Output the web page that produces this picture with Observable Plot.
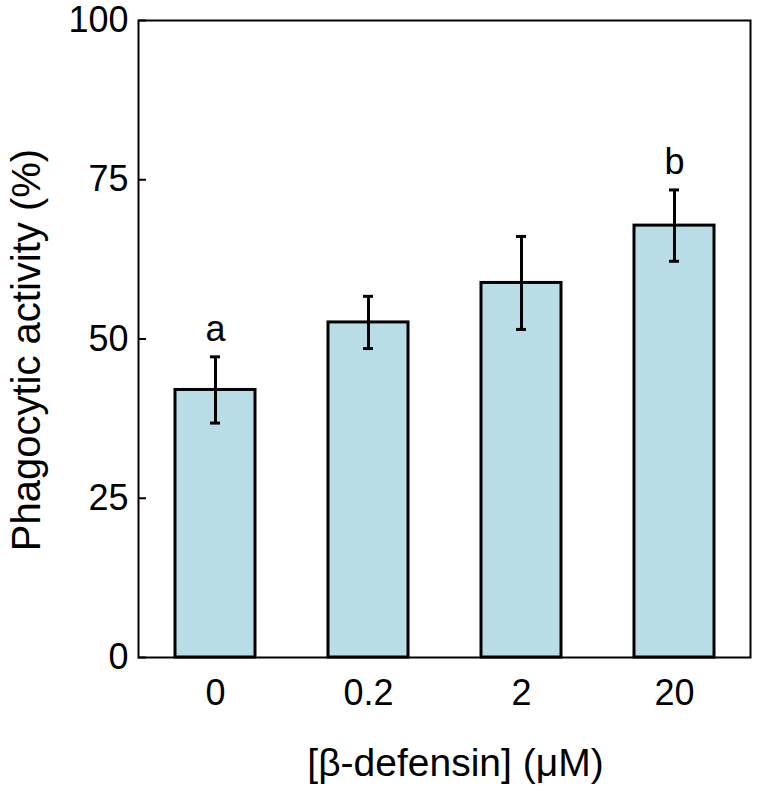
<!DOCTYPE html>
<html>
<head>
<meta charset="utf-8">
<script src="https://cdn.jsdelivr.net/npm/d3@7"></script>
<script src="https://cdn.jsdelivr.net/npm/@observablehq/plot@0.6"></script>
<style>
  html, body { margin: 0; padding: 0; background: #fff; }
  #chart svg { display: block; font-family: "Liberation Sans", Arial, sans-serif; }
</style>
</head>
<body>
<div id="chart"></div>
<script>
const doses = ["0", "0.2", "2", "20"];
const means = [42.0, 52.6, 58.8, 67.8];
const errors = [5.2, 4.1, 7.3, 5.6];
const letters = ["a", "", "", "b"];
const yTicks = [0, 25, 50, 75, 100];
const xLabel = ["[β-defensin] (μM)"];
const yLabel = ["Phagocytic activity (%)"];

const data = doses.map((d, i) => ({dose: d, mean: means[i], err: errors[i], letter: letters[i]}));
const W = 760, H = 794;
const mL = 138, mR = 10, mT = 20, mB = 137;

const chart = Plot.plot({
  width: W,
  height: H,
  marginLeft: mL,
  marginRight: mR,
  marginTop: mT,
  marginBottom: mB,
  style: {fontFamily: "'Liberation Sans', Arial, sans-serif", color: "#000", background: "#fff"},
  x: {domain: doses, paddingInner: 0.48, paddingOuter: 0.24, label: null},
  y: {domain: [0, 100], label: null},
  marks: [
    Plot.barY(data, {x: "dose", y: "mean", fill: "#b9dde7", stroke: "#000", strokeWidth: 3}),
    Plot.ruleX(data, {x: "dose", y1: d => d.mean - d.err, y2: d => d.mean + d.err, stroke: "#000", strokeWidth: 3}),
    Plot.tickY(data, {x: "dose", y: d => d.mean - d.err, stroke: "#000", strokeWidth: 3, insetLeft: 35, insetRight: 35}),
    Plot.tickY(data, {x: "dose", y: d => d.mean + d.err, stroke: "#000", strokeWidth: 3, insetLeft: 35, insetRight: 35}),
    Plot.text(data.filter(d => d.letter), {x: "dose", y: d => d.mean + d.err, text: "letter", lineAnchor: "bottom", dy: -16, fontSize: 36, fill: "#000"}),
    Plot.tickY(yTicks, {y: d => d, stroke: "#000", strokeWidth: 2, insetRight: W - mL - mR - 8}),
    Plot.frame({stroke: "#000", strokeWidth: 2}),
    Plot.axisY({ticks: yTicks, tickSize: 0, tickPadding: 10, fontSize: 36, label: null}),
    Plot.axisX({tickSize: 0, tickPadding: 22, fontSize: 36, label: null}),
    Plot.text(xLabel, {text: d => d, frameAnchor: "bottom", dx: 11, dy: 106, lineAnchor: "middle", textAnchor: "middle", fontSize: 39, fill: "#000"}),
    Plot.text(yLabel, {text: d => d, frameAnchor: "left", dx: -111, dy: 11, rotate: -90, lineAnchor: "middle", textAnchor: "middle", fontSize: 40, fill: "#000"})
  ]
});
document.getElementById("chart").appendChild(chart);
</script>
</body>
</html>
